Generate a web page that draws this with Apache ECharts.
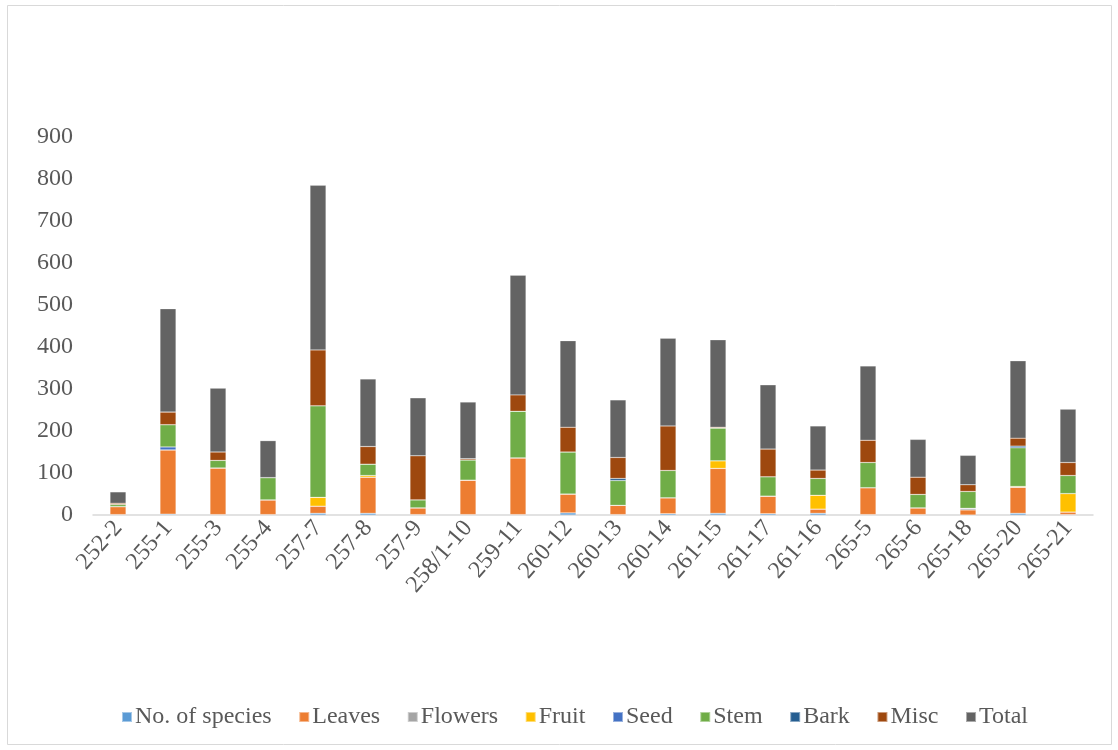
<!DOCTYPE html>
<html>
<head>
<meta charset="utf-8">
<script src="https://cdn.jsdelivr.net/npm/echarts@6/dist/echarts.min.js"></script>
<style>
  html, body { margin: 0; padding: 0; background: #ffffff; }
  #chart { width: 1118px; height: 750px; }
</style>
</head>
<body>
<div id="chart"></div>
<script>
// Sample sites
const categories = ['252-2','255-1','255-3','255-4','257-7','257-8','257-9','258/1-10','259-11','260-12',
                    '260-13','260-14','261-15','261-17','261-16','265-5','265-6','265-18','265-20','265-21'];

// Counts per plant part at each site
const species = [1, 2, 1, 1, 4, 4, 1, 1, 1, 5, 1, 3, 4, 3, 4, 1, 1, 0, 4, 1];
const leaves  = [19, 153, 111, 35, 17, 86, 16, 82, 135, 45, 22, 38, 107, 42, 10, 64, 16, 12, 62, 6];
const flowers = [0, 0, 0, 0, 0, 0, 0, 0, 0, 0, 0, 0, 0, 0, 0, 0, 0, 4, 0, 0];
const fruit   = [0, 0, 0, 0, 21, 4, 0, 0, 0, 0, 0, 0, 18, 0, 33, 0, 0, 0, 2, 44];
const seed    = [0, 7, 0, 0, 0, 0, 0, 0, 0, 0, 0, 0, 0, 0, 0, 0, 0, 0, 0, 0];
const stem    = [5, 53, 18, 53, 218, 27, 19, 48, 111, 100, 59, 65, 78, 46, 40, 60, 32, 40, 92, 43];
const bark    = [0, 0, 0, 0, 0, 0, 0, 0, 0, 0, 5, 0, 0, 0, 0, 0, 0, 0, 4, 0];
const misc    = [3, 30, 20, 0, 133, 42, 105, 3, 39, 59, 50, 106, 2, 66, 20, 53, 41, 16, 19, 31];
const total   = [27, 246, 152, 88, 392, 161, 138, 135, 285, 206, 137, 209, 208, 153, 105, 177, 90, 70, 184, 127];

const yTicks = { min: 0, max: 900, interval: 100 };

const seriesDefs = [
  ['No. of species', species, '#5B9BD5'],
  ['Leaves', leaves, '#ED7D31'],
  ['Flowers', flowers, '#A5A5A5'],
  ['Fruit', fruit, '#FFC000'],
  ['Seed', seed, '#4472C4'],
  ['Stem', stem, '#70AD47'],
  ['Bark', bark, '#255E91'],
  ['Misc', misc, '#9E480E'],
  ['Total', total, '#636363']
];

const font = '"Liberation Serif", "Times New Roman", serif';
const textColor = '#595959';

const chart = echarts.init(document.getElementById('chart'), null, { renderer: 'canvas' });

chart.setOption({
  animation: false,
  backgroundColor: '#ffffff',
  graphic: [{
    type: 'rect',
    silent: true,
    shape: { x: 7.5, y: 5.5, width: 1104, height: 739 },
    style: { fill: 'none', stroke: '#d9d9d9', lineWidth: 1 }
  }],
  grid: { left: 93, right: 25, top: 137, bottom: 235, containLabel: false },
  legend: {
    bottom: 16,
    left: 116,
    icon: 'rect',
    itemWidth: 10,
    itemHeight: 10,
    itemGap: 26.6,
    textStyle: { fontFamily: font, fontSize: 24, color: textColor, padding: [0, 0, 0, -2] },
    data: seriesDefs.map(d => d[0])
  },
  xAxis: {
    type: 'category',
    data: categories,
    axisLine: { show: true, lineStyle: { color: '#d9d9d9', width: 1.5 } },
    axisTick: { show: false },
    axisLabel: {
      rotate: 49,
      margin: 9,
      interval: 0,
      fontFamily: font,
      fontSize: 24,
      color: textColor
    }
  },
  yAxis: {
    type: 'value',
    min: yTicks.min,
    max: yTicks.max,
    interval: yTicks.interval,
    axisLine: { show: false },
    axisTick: { show: false },
    splitLine: { show: false },
    axisLabel: { margin: 20, fontFamily: font, fontSize: 24, color: textColor }
  },
  series: seriesDefs.map(([name, data, color]) => ({
    name,
    type: 'bar',
    stack: 'parts',
    barWidth: 16,
    data,
    itemStyle: { color, borderColor: 'rgba(255,255,255,0.45)', borderWidth: 0.5 }
  }))
});
</script>
</body>
</html>
